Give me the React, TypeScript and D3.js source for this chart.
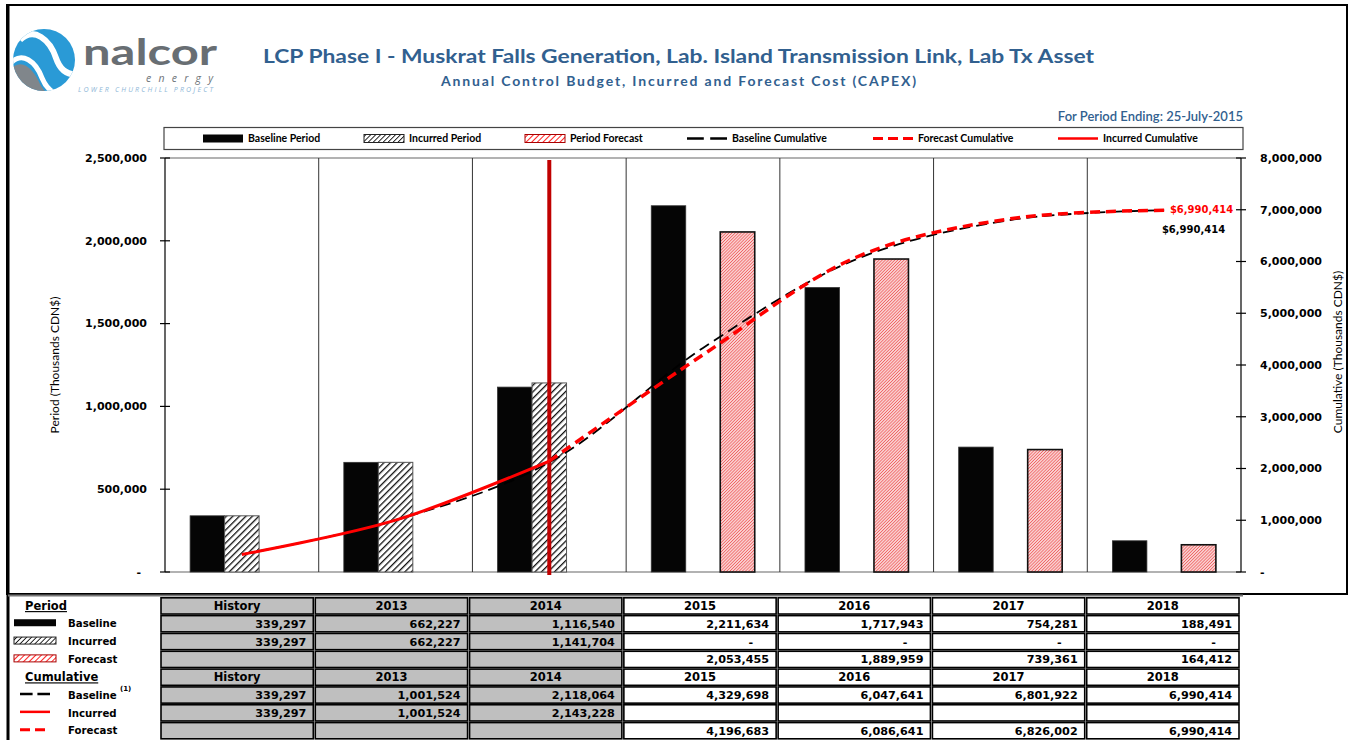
import React from 'react';
import * as d3 from 'd3';

const categories = ['History', '2013', '2014', '2015', '2016', '2017', '2018'];
const seriesKeys = ['baseline', 'incurred', 'forecast'];

const baselinePeriod: (number | null)[] = [339297, 662227, 1116540, 2211634, 1717943, 754281, 188491];
const incurredPeriod: (number | null)[] = [339297, 662227, 1141704, 0, 0, 0, 0];
const forecastPeriod: (number | null)[] = [null, null, null, 2053455, 1889959, 739361, 164412];

const baselineCum: (number | null)[] = [339297, 1001524, 2118064, 4329698, 6047641, 6801922, 6990414];
const incurredCum: (number | null)[] = [339297, 1001524, 2143228, null, null, null, null];
const forecastCum: (number | null)[] = [null, null, null, 4196683, 6086641, 6826002, 6990414];

const periodTicks = [0, 500000, 1000000, 1500000, 2000000, 2500000];
const cumTicks = [0, 1000000, 2000000, 3000000, 4000000, 5000000, 6000000, 7000000, 8000000];

const titleText = 'LCP Phase I - Muskrat Falls Generation, Lab. Island Transmission Link, Lab Tx Asset';
const subtitleText = 'Annual Control Budget, Incurred and Forecast Cost (CAPEX)';
const periodEnding = 'For Period Ending: 25-July-2015';
const endLabel = '$6,990,414';

const BLUE = '#31608f';
const NUM_FONT = '"DejaVu Sans", Verdana, sans-serif';
const UI_FONT = 'Lato, "Open Sans", sans-serif';

const fmt = d3.format(',');
const fmtCell = (v: number | null) => (v === null ? '' : v === 0 ? '-' : fmt(v));

export default function App() {
  const W = 1351;
  const H = 740;
  const L = 165, R = 1241, T = 158, B = 572;

  const x = d3.scaleBand<string>().domain(categories).range([L, R]).padding(0);
  const bw = x.bandwidth();
  const xs = d3.scaleBand<string>().domain(seriesKeys).range([0, bw]).paddingInner(0).paddingOuter(0.728);
  const yL = d3.scaleLinear().domain([0, 2500000]).range([B, T]);
  const yR = d3.scaleLinear().domain([0, 8000000]).range([B, T]);
  const cx = (c: string) => (x(c) as number) + bw / 2;

  const line = d3
    .line<{ c: string; v: number }>()
    .x((d) => cx(d.c))
    .y((d) => yR(d.v))
    .curve(d3.curveCatmullRom.alpha(0.5));

  const toPts = (arr: (number | null)[]) =>
    arr.map((v, i) => ({ c: categories[i], v })).filter((d) => d.v !== null) as { c: string; v: number }[];

  const baselinePts = toPts(baselineCum);
  const incurredPts = toPts(incurredCum);
  const lastInc = incurredPts[incurredPts.length - 1];
  const forecastPts = [lastInc, ...toPts(forecastCum)];

  const barSeries = [
    { key: 'baseline', data: baselinePeriod, fill: '#050505', stroke: '#333', sw: 0.8 },
    { key: 'incurred', data: incurredPeriod, fill: 'url(#hatchBlack)', stroke: '#555', sw: 1 },
    { key: 'forecast', data: forecastPeriod, fill: 'url(#hatchRed)', stroke: '#111', sw: 1.6 },
  ];

  // table
  const tx = d3.scaleBand<string>().domain(categories).range([160, 1240]).padding(0);
  const rows = [
    { type: 'header', label: 'Period', values: null as (number | null)[] | null },
    { type: 'val', label: 'Baseline', values: baselinePeriod, sw: 'rect' },
    { type: 'val', label: 'Incurred', values: incurredPeriod, sw: 'hatch' },
    { type: 'val', label: 'Forecast', values: forecastPeriod, sw: 'red' },
    { type: 'header', label: 'Cumulative', values: null },
    { type: 'val', label: 'Baseline', values: baselineCum, sw: 'dashBlack' },
    { type: 'val', label: 'Incurred', values: incurredCum, sw: 'lineRed' },
    { type: 'val', label: 'Forecast', values: forecastCum, sw: 'dashRed' },
  ];
  const ry = d3.scaleBand<number>().domain(rows.map((_, i) => i)).range([597, 739.6]).padding(0);
  const rh = ry.bandwidth();
  const grayCols = new Set(['History', '2013', '2014']);

  const legendItems = [
    { type: 'rect', label: 'Baseline Period', x0: 203 },
    { type: 'hatch', label: 'Incurred Period', x0: 364 },
    { type: 'red', label: 'Period Forecast', x0: 525 },
    { type: 'dashBlack', label: 'Baseline Cumulative', x0: 687 },
    { type: 'dashRed', label: 'Forecast Cumulative', x0: 873 },
    { type: 'lineRed', label: 'Incurred Cumulative', x0: 1058 },
  ];

  const swatch = (type: string, x0: number, yc: number, w: number, h: number, key: string) => {
    if (type === 'rect') return <rect key={key} x={x0} y={yc - h / 2} width={w} height={h} fill="#050505" />;
    if (type === 'hatch')
      return <rect key={key} x={x0} y={yc - h / 2} width={w} height={h} fill="url(#hatchBlackS)" stroke="#222" strokeWidth={1} />;
    if (type === 'red')
      return <rect key={key} x={x0} y={yc - h / 2} width={w} height={h} fill="url(#hatchRedS)" stroke="#a00" strokeWidth={1} />;
    if (type === 'dashBlack')
      return <line key={key} x1={x0} x2={x0 + w} y1={yc} y2={yc} stroke="#000" strokeWidth={2.5} strokeDasharray={`${w * 0.42},${w * 0.16}`} />;
    if (type === 'dashRed')
      return <line key={key} x1={x0} x2={x0 + w} y1={yc} y2={yc} stroke="#ff0000" strokeWidth={3} strokeDasharray="10,5" />;
    return <line key={key} x1={x0} x2={x0 + w} y1={yc} y2={yc} stroke="#ff0000" strokeWidth={2.5} />;
  };

  return (
    <svg width={W} height={H} style={{ position: 'absolute', left: 0, top: 0, background: '#fff' }}>
      <defs>
        <pattern id="hatchBlack" patternUnits="userSpaceOnUse" width={4.6} height={4.6} patternTransform="rotate(45)">
          <rect width={4.6} height={4.6} fill="#fff" />
          <line x1={0} y1={0} x2={0} y2={4.6} stroke="#111" strokeWidth={2.6} />
        </pattern>
        <pattern id="hatchBlackS" patternUnits="userSpaceOnUse" width={3.5} height={3.5} patternTransform="rotate(45)">
          <rect width={3.5} height={3.5} fill="#fff" />
          <line x1={0} y1={0} x2={0} y2={3.5} stroke="#111" strokeWidth={1.8} />
        </pattern>
        <pattern id="hatchRed" patternUnits="userSpaceOnUse" width={2.2} height={2.2} patternTransform="rotate(45)">
          <rect width={2.2} height={2.2} fill="#f9d0d0" />
          <line x1={0} y1={0} x2={0} y2={2.2} stroke="#ee3b3b" strokeWidth={1.1} />
        </pattern>
        <pattern id="hatchRedS" patternUnits="userSpaceOnUse" width={4} height={4} patternTransform="rotate(45)">
          <rect width={4} height={4} fill="#fff" />
          <line x1={0} y1={0} x2={0} y2={4} stroke="#ff2020" strokeWidth={2} />
        </pattern>
        <clipPath id="logoClip">
          <circle cx={44} cy={60} r={31} />
        </clipPath>
        <filter id="shadow" x="-50%" y="-5%" width="200%" height="110%">
          <feGaussianBlur stdDeviation={0.8} />
        </filter>
      </defs>

      {/* frame */}
      <rect x={7} y={5} width={1340} height={589} fill="none" stroke="#000" strokeWidth={2} />
      <line x1={8} x2={8} y1={5} y2={740} stroke="#000" strokeWidth={3} />
      <line x1={8} x2={1243} y1={595.5} y2={595.5} stroke="#777" strokeWidth={2} />

      {/* logo */}
      <g clipPath="url(#logoClip)">
        <rect x={10} y={26} width={70} height={70} fill="#2a9ad6" />
        <path d="M10,70 C22,56 34,70 40,84 C44,92 50,96 56,98 L10,98 Z" fill="#80868b" />
        <path d="M10,64 C22,50 36,62 42,78 C46,88 52,93 60,96" fill="none" stroke="#fff" strokeWidth={5} />
        <path d="M20,40 C34,26 50,40 56,58 C60,70 68,76 80,74" fill="none" stroke="#fff" strokeWidth={6} />
      </g>
      <text x={83} y={65} fontFamily="Lato, sans-serif" fontWeight={700} fontSize={36} fill="#686e73" textLength={134} lengthAdjust="spacingAndGlyphs">
        nalcor
      </text>
      <text x={146} y={82} fontFamily='"Open Sans", sans-serif' fontStyle="italic" fontSize={10.5} fill="#6e7479" textLength={67}>
        energy
      </text>
      <text x={78} y={91.5} fontFamily='"Open Sans", sans-serif' fontStyle="italic" fontSize={7} fill="#8fb8d8" textLength={135}>
        LOWER CHURCHILL PROJECT
      </text>

      {/* titles */}
      <text x={678.5} y={63} textAnchor="middle" fontFamily={UI_FONT} fontWeight={700} fontSize={19} fill={BLUE} textLength={831} lengthAdjust="spacingAndGlyphs">
        {titleText}
      </text>
      <text x={678.5} y={86} textAnchor="middle" fontFamily={UI_FONT} fontWeight={700} fontSize={14} fill={BLUE} textLength={475}>
        {subtitleText}
      </text>
      <text x={1243} y={121} textAnchor="end" fontFamily={UI_FONT} fontWeight={600} fontSize={13} fill={BLUE}>
        {periodEnding}
      </text>

      {/* legend */}
      <rect x={164} y={127.5} width={1079} height={22} fill="#fff" stroke="#444" strokeWidth={1.2} />
      {legendItems.map((it, i) => (
        <g key={'lg' + i}>
          {swatch(it.type, it.x0, 138.5, 40, 8, 'lgs' + i)}
          <text x={it.x0 + 45} y={138.5} dy="0.35em" fontFamily={UI_FONT} fontWeight={700} fontSize={10.5} fill="#000">
            {it.label}
          </text>
        </g>
      ))}

      {/* plot area borders */}
      <line x1={L} x2={R} y1={T} y2={T} stroke="#999" strokeWidth={1.5} />
      <line x1={L} x2={R} y1={B} y2={B} stroke="#999" strokeWidth={1.5} />
      {categories.slice(1).map((c) => (
        <line key={'g' + c} x1={x(c)} x2={x(c)} y1={T} y2={B} stroke="#333" strokeWidth={1} />
      ))}

      {/* bars */}
      {barSeries.map((s) =>
        s.data.map((v, i) =>
          v && v > 0 ? (
            <rect
              key={s.key + i}
              x={(x(categories[i]) as number) + (xs(s.key) as number)}
              y={yL(v)}
              width={xs.bandwidth()}
              height={B - yL(v)}
              fill={s.fill}
              stroke={s.stroke}
              strokeWidth={s.sw}
            />
          ) : null
        )
      )}

      {/* axes */}
      <line x1={L} x2={L} y1={T} y2={B} stroke="#000" strokeWidth={1.2} />
      <line x1={R} x2={R} y1={T} y2={B} stroke="#000" strokeWidth={1.2} />
      {periodTicks.map((t) => (
        <g key={'pt' + t}>
          <line x1={L - 5} x2={L + 5} y1={yL(t)} y2={yL(t)} stroke="#000" strokeWidth={1.2} />
          <text
            x={t === 0 ? 141 : 147}
            y={yL(t)}
            dy="0.35em"
            textAnchor="end"
            fontFamily={NUM_FONT}
            fontWeight={700}
            fontSize={11}
            fill="#000"
          >
            {t === 0 ? '-' : fmt(t)}
          </text>
        </g>
      ))}
      {cumTicks.map((t) => (
        <g key={'ct' + t}>
          <line x1={R - 5} x2={R + 5} y1={yR(t)} y2={yR(t)} stroke="#000" strokeWidth={1.2} />
          <text x={1260} y={yR(t)} dy="0.35em" textAnchor="start" fontFamily={NUM_FONT} fontWeight={700} fontSize={11} fill="#000">
            {t === 0 ? '-' : fmt(t)}
          </text>
        </g>
      ))}
      <text transform="translate(59,365) rotate(-90)" textAnchor="middle" fontFamily={UI_FONT} fontSize={12} fill="#000">
        Period (Thousands CDN$)
      </text>
      <text transform="translate(1342,352) rotate(-90)" textAnchor="middle" fontFamily={UI_FONT} fontSize={12} fill="#000">
        Cumulative (Thousands CDN$)
      </text>

      {/* period ending marker */}
      <line x1={cx('2014') + 1} x2={cx('2014') + 1} y1={162} y2={577} stroke="#999" strokeWidth={4} filter="url(#shadow)" opacity={0.6} />
      <line x1={cx('2014')} x2={cx('2014')} y1={160} y2={575} stroke="#c00000" strokeWidth={4} />

      {/* cumulative lines */}
      <path d={line(baselinePts) || ''} fill="none" stroke="#000" strokeWidth={1.8} strokeDasharray="11,6" />
      <path d={line(forecastPts) || ''} fill="none" stroke="#ff0000" strokeWidth={3.5} strokeDasharray="10,6" />
      <path d={line(incurredPts) || ''} fill="none" stroke="#ff0000" strokeWidth={3} />

      {/* end labels */}
      <text
        x={cx('2018') + 69}
        y={yR(forecastCum[6] as number) - 1}
        dy="0.35em"
        textAnchor="end"
        fontFamily={NUM_FONT}
        fontWeight={700}
        fontSize={10}
        fill="#ff0000"
      >
        {endLabel}
      </text>
      <text
        x={cx('2018') + 61}
        y={yR(baselineCum[6] as number) + 19}
        dy="0.35em"
        textAnchor="end"
        fontFamily={NUM_FONT}
        fontWeight={700}
        fontSize={10}
        fill="#000"
      >
        {endLabel}
      </text>

      {/* table */}
      {rows.map((r, ri) => {
        const y0 = ry(ri) as number;
        const yc = y0 + rh / 2;
        return (
          <g key={'row' + ri}>
            {categories.map((c) => {
              const x0 = tx(c) as number;
              const gray = grayCols.has(c);
              const v = r.values ? r.values[categories.indexOf(c)] : null;
              return (
                <g key={'cell' + ri + c}>
                  <rect x={x0 + 1} y={y0 + 0.8} width={tx.bandwidth() - 2} height={rh - 1.6} fill={gray ? '#bfbfbf' : '#fff'} stroke="#000" strokeWidth={1.6} />
                  {r.type === 'header' ? (
                    <text x={x0 + tx.bandwidth() / 2} y={yc} dy="0.36em" textAnchor="middle" fontFamily={NUM_FONT} fontWeight={700} fontSize={11.5} fill="#000">
                      {c}
                    </text>
                  ) : (
                    <text
                      x={v === 0 ? x0 + tx.bandwidth() - 24 : x0 + tx.bandwidth() - 8}
                      y={yc}
                      dy="0.36em"
                      textAnchor="end"
                      fontFamily={NUM_FONT}
                      fontWeight={700}
                      fontSize={11.2}
                      fill="#000"
                    >
                      {fmtCell(v as number | null)}
                    </text>
                  )}
                </g>
              );
            })}
            {r.type === 'header' ? (
              <text x={25} y={yc} dy="0.36em" fontFamily={NUM_FONT} fontWeight={700} fontSize={11.5} textDecoration="underline" fill="#000">
                {r.label}
              </text>
            ) : (
              <g>
                {ri < 4
                  ? swatch((r as any).sw, 14, yc - 1, 42, 7, 'ts' + ri)
                  : swatch((r as any).sw, 20, yc - 1, 30, 0, 'ts' + ri)}
                <text x={68} y={yc} dy="0.36em" fontFamily={NUM_FONT} fontWeight={700} fontSize={10.2} fill="#000">
                  {r.label}
                </text>
                {ri === 5 ? (
                  <text x={120} y={yc - 4} fontFamily={NUM_FONT} fontWeight={700} fontSize={7} fill="#000">
                    (1)
                  </text>
                ) : null}
              </g>
            )}
          </g>
        );
      })}
    </svg>
  );
}
